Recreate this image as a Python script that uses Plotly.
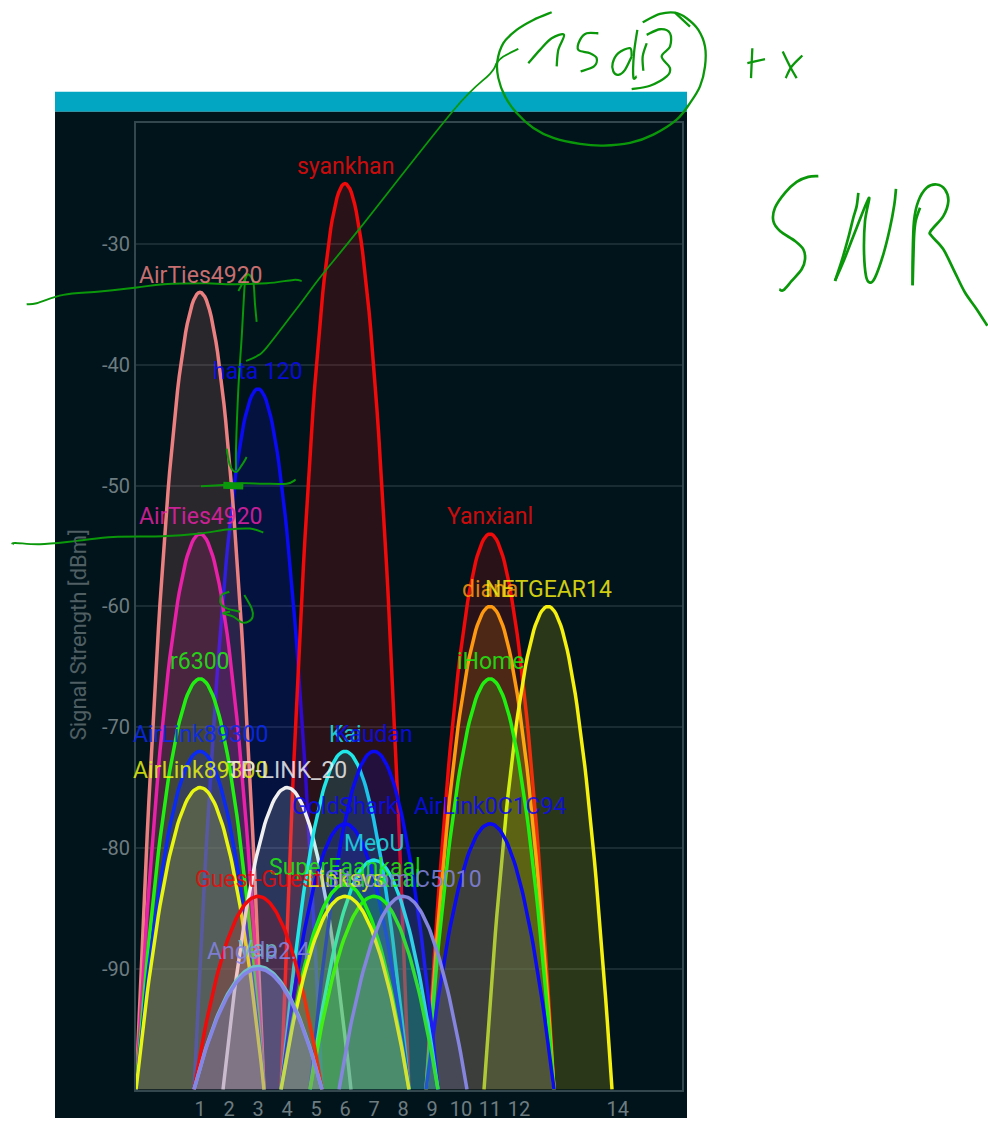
import numpy as np
import plotly.graph_objects as go

# ---- chart data ----
network_names = ["hata 120", "syankhan", "AirTies4920", "AirTies4920", "Yanxianl", "diana", "NETGEAR14",
                 "iHome", "r6300", "AirLink89300", "AirLink89300", "TP-LINK_20", "Kai", "Kaudan", "GoldShark",
                 "AirLink0C1C94", "MeoU", "SuperFaankaal", "Faankaal", "Guest-Guest", "Linksys",
                 "Sitecom C5010", "Vap", "Angela2.4"]
channels = [3, 6, 1, 1, 11, 11, 13, 11, 1, 1, 1, 4, 6, 7, 6, 11, 7, 6, 7, 3, 6, 8, 3, 3]
peak_dbm = [-42, -25, -34, -54, -54, -60, -60, -66, -66, -72, -75, -75, -72, -72, -78, -78, -81, -83, -84,
            -84, -84, -84, -89.8, -90]
line_colors = ["#0a0af5", "#f00a0a", "#ec8080", "#e821a8", "#f00a0a", "#ff9a10", "#f5f010", "#20f010",
               "#20f010", "#0a2af5", "#e8f510", "#f0f0f0", "#20e8e8", "#0a0af5", "#0a0af5", "#0a0af5", "#20e0e8",
               "#20f010", "#20f010", "#f00a0a", "#e8f510", "#8585e0", "#70c0c8", "#8585e8"]

y_tick_values = [-30, -40, -50, -60, -70, -80, -90]
y_tick_labels = ["-30", "-40", "-50", "-60", "-70", "-80", "-90"]
x_tick_positions = [1, 2, 3, 4, 5, 6, 7, 8, 9, 10, 11, 12, 15.4]
x_tick_labels = ["1", "2", "3", "4", "5", "6", "7", "8", "9", "10", "11", "12", "14"]
floor_dbm = -100
half_width_channels = 2.207

# ---- hand-drawn pen strokes on top of the screenshot, in page pixels ----
def z4(p): return [(490 + x / 3, y / 3) for x, y in p]
def z5(p): return [(760 + x / 3, 165 + y / 3) for x, y in p]
def z6(p): return [(x / 3, 255 + y / 3) for x, y in p]
def z7(p): return [(x / 3, 450 + y / 3) for x, y in p]

pen_strokes = [
    z4([(185, 37), (130, 60), (80, 90), (40, 130), (22, 185), (25, 235), (45, 290), (80, 340), (130, 385),
        (190, 415), (270, 433), (340, 438), (420, 430), (490, 405), (560, 360), (600, 310), (630, 260),
        (645, 200), (645, 140), (625, 90), (590, 55), (555, 38), (510, 42), (458, 67)]),
    z4([(555, 38), (600, 80)]),
    z4([(85, 147), (40, 170), (20, 190), (0, 222)]) + [(454, 110), (359, 230), (321, 277), (300, 305), (267, 348),
                                                        (257, 357), (246, 362)],
    z4([(115, 190), (150, 150), (185, 115), (222, 105), (205, 150), (200, 200)]),
    z4([(325, 100), (290, 100), (270, 120), (265, 150), (300, 160), (320, 175), (312, 200), (272, 215)]),
    z4([(425, 170), (420, 145), (385, 160), (368, 190), (370, 215), (385, 225), (405, 210), (425, 170)]),
    z4([(442, 90), (432, 160), (430, 232), (440, 230)]),
    z4([(470, 130), (458, 170), (460, 213)]),
    z4([(470, 105), (510, 88), (540, 100), (540, 140), (515, 170), (540, 205), (530, 230), (480, 258), (425, 268)]),
    z4([(787, 145), (783, 235)]),
    z4([(772, 190), (825, 178)]),
    z4([(878, 155), (900, 200), (920, 235)]),
    z4([(937, 167), (905, 200), (887, 235)]),
    z5([(175, 35), (145, 37), (110, 52), (75, 85), (45, 130), (40, 170), (60, 200), (105, 230), (130, 255),
        (135, 285), (125, 315), (95, 350), (70, 378), (58, 375)]),
    z5([(295, 85), (290, 125), (280, 160), (265, 220), (245, 290), (225, 350)]),
    z5([(225, 350), (255, 280), (290, 190), (327, 100), (315, 170), (312, 260), (318, 335), (330, 355), (345, 340),
        (370, 270), (390, 190), (403, 120), (408, 73)]),
    z5([(480, 130), (467, 170), (462, 220), (458, 363)]),
    z5([(458, 363), (458, 280), (462, 170), (475, 110), (500, 70), (530, 60), (555, 75), (565, 110), (550, 155),
        (512, 200), (515, 215), (550, 255), (585, 325), (615, 385), (650, 435), (682, 485)]),
    z6([(80, 150), (110, 147), (190, 122), (300, 112), (410, 100), (490, 90), (620, 87), (680, 90), (800, 87),
        (880, 77), (905, 80)]),
    z6([(742, 60), (735, 80), (725, 250), (715, 405)]) + z7([(708, 0), (708, 65)]),
    z6([(715, 110), (735, 75), (745, 60), (760, 85), (765, 150), (770, 203)]),
    z7([(680, 0), (690, 50), (708, 70), (725, 50), (740, 25)]),
    z7([(603, 113), (680, 108), (730, 104), (790, 105), (860, 105), (887, 93)]),
    z7([(670, 110), (730, 112)]),
    z7([(38, 288), (45, 283), (120, 287), (230, 277), (340, 265), (490, 263), (600, 255), (680, 243), (750, 240),
        (790, 252)]),
    z7([(688, 430), (665, 440), (662, 465), (680, 480), (720, 490)]),
    z7([(733, 440), (755, 480), (758, 505), (745, 520), (725, 522), (700, 505), (670, 495), (690, 490)]),
]
stroke_widths = [2] * len(pen_strokes)
for i in range(13):
    stroke_widths[i] = 2.3
stroke_widths[2] = 1.8
for i in range(13, 18):
    stroke_widths[i] = 2.7
stroke_widths[23] = 7

PAGE_W, PAGE_H = 988, 1121
px = lambda v: v / PAGE_W
py = lambda v: 1 - v / PAGE_H


def smooth_path(points):
    pts = [(px(x), py(y)) for x, y in points]
    d = f"M {pts[0][0]:.5f} {pts[0][1]:.5f}"
    for i in range(len(pts) - 1):
        p0, p1, p2, p3 = pts[max(i - 1, 0)], pts[i], pts[i + 1], pts[min(i + 2, len(pts) - 1)]
        c1 = (p1[0] + (p2[0] - p0[0]) / 6, p1[1] + (p2[1] - p0[1]) / 6)
        c2 = (p2[0] - (p3[0] - p1[0]) / 6, p2[1] - (p3[1] - p1[1]) / 6)
        d += f" C {c1[0]:.5f} {c1[1]:.5f} {c2[0]:.5f} {c2[1]:.5f} {p2[0]:.5f} {p2[1]:.5f}"
    return d


def rgba(color, alpha):
    return f"rgba({int(color[1:3], 16)},{int(color[3:5], 16)},{int(color[5:7], 16)},{alpha})"


fig = go.Figure()
offsets = np.linspace(-half_width_channels, half_width_channels, 81)
for name, ch, peak, col in zip(network_names, channels, peak_dbm, line_colors):
    fig.add_trace(go.Scatter(
        x=ch + offsets,
        y=peak - (peak - floor_dbm) * (offsets / half_width_channels) ** 2,
        mode="lines", name=name, showlegend=False,
        line=dict(color=col, width=3.5), fill="toself", fillcolor=rgba(col, 0.17),
    ))
    fig.add_annotation(x=ch, y=peak, text=name, showarrow=False, yanchor="middle", yshift=17,
                       font=dict(family="Roboto", size=23, color=rgba(col, 0.85)))

fig.add_annotation(xref="paper", yref="paper", x=px(78), y=py(637), text="Signal Strength [dBm]",
                   textangle=-90, showarrow=False, xanchor="center", yanchor="middle",
                   font=dict(family="Roboto", size=22, color="#4f5f63"))

shapes = [
    dict(type="rect", xref="paper", yref="paper", x0=px(55), x1=px(687), y0=py(92), y1=py(112),
         fillcolor="#02a6c2", line_width=0, layer="below"),
    dict(type="rect", xref="paper", yref="paper", x0=px(55), x1=px(687), y0=py(112), y1=0,
         fillcolor="#02141b", line_width=0, layer="below"),
]
for stroke, w in zip(pen_strokes, stroke_widths):
    shapes.append(dict(type="path", xref="paper", yref="paper", path=smooth_path(stroke),
                       line=dict(color="#0a980a", width=w), layer="above"))

axis_font = dict(family="Roboto", size=20, color="#6d7c80")
fig.update_layout(
    width=PAGE_W, height=PAGE_H, margin=dict(l=0, r=0, t=0, b=0),
    paper_bgcolor="white", plot_bgcolor="rgba(0,0,0,0)", shapes=shapes,
    xaxis=dict(domain=[px(136), px(682)], range=[-1.207, 17.62], tickmode="array",
               tickvals=x_tick_positions, ticktext=x_tick_labels, tickfont=axis_font, showgrid=False,
               zeroline=False, showline=True, linecolor="#33474e", linewidth=2, mirror=True, ticks=""),
    yaxis=dict(domain=[py(1092.5), py(123.5)], range=[-100, -20], tickmode="array", tickvals=y_tick_values,
               ticktext=y_tick_labels, tickfont=axis_font, showgrid=True, gridcolor="#1a2c33", gridwidth=2,
               zeroline=False, showline=True, linecolor="#33474e", linewidth=2, mirror=True, ticks=""),
)
fig.write_html("out.html", config={"displayModeBar": False},
               post_script="document.body.style.margin='0';document.documentElement.style.overflow='hidden';")
